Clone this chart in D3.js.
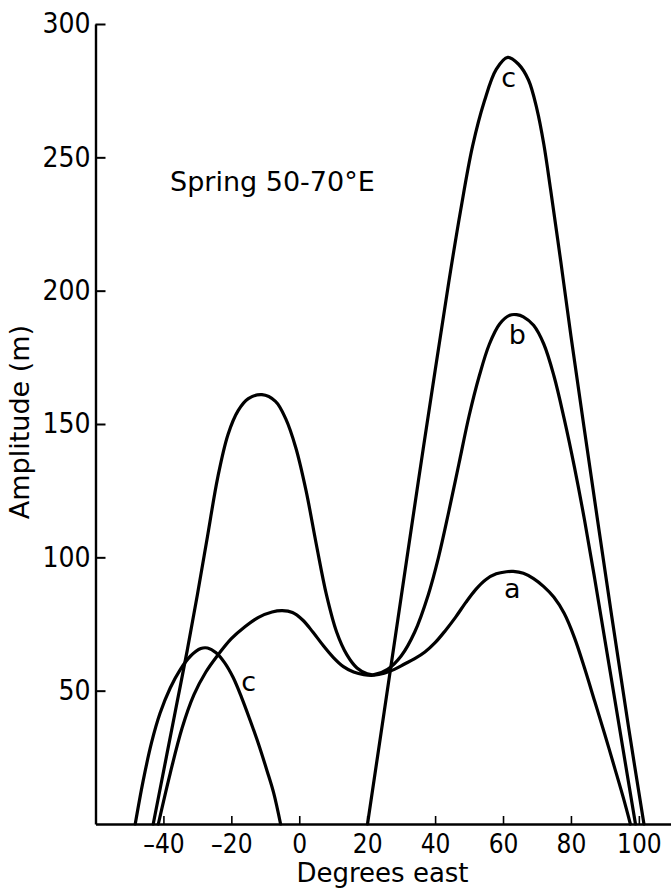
<!DOCTYPE html>
<html>
<head>
<meta charset="utf-8">
<script src="https://cdn.jsdelivr.net/npm/d3@7"></script>
<style>
  html, body { margin: 0; padding: 0; background: #fff; }
  svg { display: block; }
  text { fill: #000; }
</style>
</head>
<body>
<svg id="chart" width="671" height="893"></svg>
<script>
// Axis ticks
const xTicks = [-40, -20, 0, 20, 40, 60, 80, 100];
const yTicks = [50, 100, 150, 200, 250, 300];

// Amplitude (m) against longitude (degrees east), spring, 50-70°E
const curveA = [
  [-41.5, 0], [-38, 19], [-34.5, 36], [-31, 48.5], [-27.5, 57], [-24, 63.3],
  [-20, 69.5], [-16, 74], [-12, 77.5], [-8, 79.5], [-5, 80], [-2, 79.3],
  [1, 76.5], [4, 72], [7, 67], [10, 62.5], [13, 59], [16, 57], [19, 56],
  [22, 55.8], [25, 56.5], [28, 58], [31, 60], [34, 62], [37, 64.5], [40, 68],
  [43, 72.5], [46, 77.5], [49, 83], [52, 88], [55, 91.7], [58, 93.8],
  [61, 94.6], [63, 94.7], [66, 94], [69, 92], [72, 89], [75, 85], [78, 79],
  [81, 70], [84, 58.5], [87, 46], [90, 33.5], [93, 20.5], [95.5, 9.5], [97.5, 0]
];
const curveB = [
  [-43, 0], [-39, 26], [-36, 45.5], [-33, 65], [-30, 86], [-27, 108],
  [-24, 130], [-21, 146], [-18, 155], [-15, 159.5], [-11, 161], [-7, 158.5],
  [-4, 152], [-1, 141], [2, 125], [5, 105], [8, 86], [11, 72], [14, 63.5],
  [17, 58.5], [20, 56.3], [22, 56], [26, 58], [30, 63], [34, 72], [38, 86],
  [41, 100], [44, 117], [47, 135], [50, 153], [53, 168], [56, 180],
  [59, 187.5], [62, 190.8], [64, 191], [66, 190.2], [69, 187], [72, 180],
  [75, 168], [78, 152], [81, 134], [84, 114], [87, 92], [90, 69], [93, 46],
  [96, 23], [99, 0]
];
const curveCWest = [
  [-48.3, 0], [-46, 16], [-43.5, 30.5], [-41, 41.5], [-38, 51], [-35, 58],
  [-32, 63], [-29, 65.8], [-27, 66], [-24.5, 64.2], [-22, 60.5], [-19.5, 55],
  [-17, 47.5], [-14.5, 39], [-12, 30], [-9.5, 20], [-7.5, 11.5], [-5.5, 0]
];
const curveCEast = [
  [20.1, 0], [25, 42], [30, 85], [35, 128], [40, 170], [44, 203], [47.5, 230],
  [51, 254], [54.5, 271], [58, 283], [61.4, 287.5], [64.5, 285], [67.5, 279],
  [70, 268], [72, 255], [74, 238], [77, 211], [80, 183], [86, 130], [92, 78],
  [97, 36], [101.5, 0]
];
const series = [curveA, curveB, curveCWest, curveCEast];

// Curve labels, placed in data units
const curveLabels = [
  { text: "c", deg: 61.7, amp: 279.8 },
  { text: "b", deg: 64.2, amp: 183.4 },
  { text: "a", deg: 62.7, amp: 88.4 },
  { text: "c", deg: -14.9, amp: 53.4 }
];

const svg = d3.select("#chart");
const x0 = 95.5, pxPerDeg = 3.396;
const x = d3.scaleLinear().domain([-60, 110]).range([x0, x0 + 170 * pxPerDeg]);
const y = d3.scaleLinear().domain([0, 300]).range([824, 24]);

const tickFont = "'DejaVu Sans Condensed', 'DejaVu Sans', sans-serif";
const textFont = "'DejaVu Sans', sans-serif";

// x axis, ticks pointing inward
const gx = svg.append("g")
  .attr("transform", `translate(0,${y(0)})`)
  .call(d3.axisBottom(x).tickValues(xTicks).tickSize(-8).tickSizeOuter(0)
    .tickPadding(11).tickFormat(d => d < 0 ? "\u2013" + Math.abs(d) : String(d)));
gx.select(".domain").attr("stroke", "#000").attr("stroke-width", 2.4);
gx.selectAll(".tick line").attr("stroke", "#000").attr("stroke-width", 1.6);
gx.selectAll(".tick text")
  .style("font-family", tickFont).style("font-stretch", "condensed")
  .attr("font-size", 26).attr("fill", "#000");

// y axis
const gy = svg.append("g")
  .attr("transform", `translate(${x0},0)`)
  .call(d3.axisLeft(y).tickValues(yTicks).tickSize(-10).tickSizeOuter(0)
    .tickPadding(5).tickFormat(d => String(d)));
gy.select(".domain").attr("stroke", "#000").attr("stroke-width", 2.4);
gy.selectAll(".tick line").attr("stroke", "#000").attr("stroke-width", 2);
gy.selectAll(".tick text")
  .style("font-family", tickFont).style("font-stretch", "condensed")
  .attr("font-size", 28).attr("fill", "#000");

// curves
const line = d3.line()
  .x(d => x(d[0]))
  .y(d => y(d[1]))
  .curve(d3.curveCatmullRom.alpha(0.5));

svg.append("g").selectAll("path")
  .data(series)
  .join("path")
  .attr("d", line)
  .attr("fill", "none")
  .attr("stroke", "#000")
  .attr("stroke-width", 3.2)
  .attr("stroke-linejoin", "round")
  .attr("stroke-linecap", "round");

// curve labels
svg.append("g").selectAll("text")
  .data(curveLabels)
  .join("text")
  .attr("x", d => x(d.deg))
  .attr("y", d => y(d.amp))
  .attr("text-anchor", "middle")
  .attr("dominant-baseline", "central")
  .style("font-family", textFont)
  .attr("font-size", 27)
  .text(d => d.text);

// titles
svg.append("text")
  .attr("x", 170).attr("y", 191)
  .style("font-family", textFont).attr("font-size", 27)
  .text("Spring 50-70°E");

svg.append("text")
  .attr("x", 382.5).attr("y", 882)
  .attr("text-anchor", "middle")
  .style("font-family", textFont).attr("font-size", 26)
  .text("Degrees east");

svg.append("text")
  .attr("transform", "translate(29,422) rotate(-90)")
  .attr("text-anchor", "middle")
  .style("font-family", textFont).attr("font-size", 27)
  .text("Amplitude (m)");
</script>
</body>
</html>
